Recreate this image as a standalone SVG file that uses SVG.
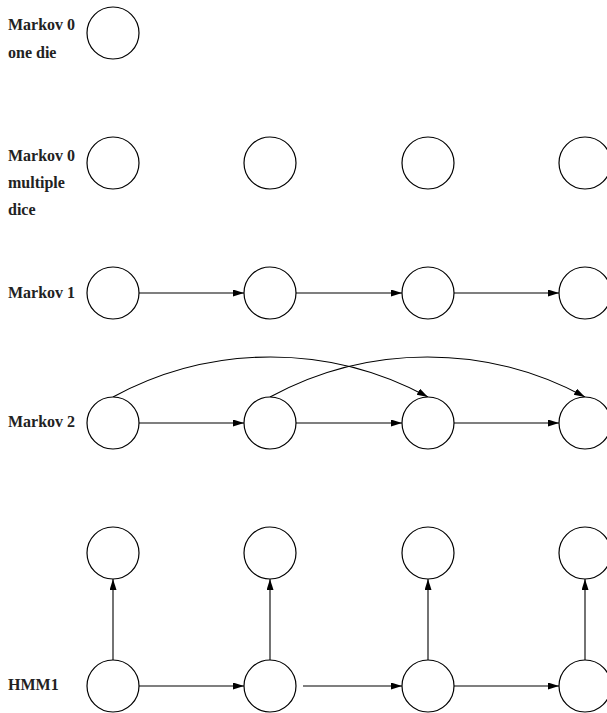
<svg xmlns="http://www.w3.org/2000/svg" width="607" height="713" viewBox="0 0 607 713">
<defs>
<style>
.n{fill:#fff;stroke:#000;stroke-width:1.2}
.e{fill:none;stroke:#000;stroke-width:1.1;marker-end:url(#ah)}
.t{font-family:"Liberation Serif","Times New Roman",serif;font-weight:bold;font-size:16px;fill:#222}
</style>
<marker id="ah" markerUnits="userSpaceOnUse" markerWidth="12" markerHeight="8" refX="11" refY="3.5" orient="auto">
<path d="M0,0 L11,3.5 L0,7 z" fill="#000"/>
</marker>
</defs>
<rect width="607" height="713" fill="#fff"/>
<g id="labels">
<text class="t" x="8" y="30">Markov 0</text>
<text class="t" x="8" y="58">one die</text>
<text class="t" x="8" y="161">Markov 0</text>
<text class="t" x="8" y="188">multiple</text>
<text class="t" x="8" y="215">dice</text>
<text class="t" x="8" y="298">Markov 1</text>
<text class="t" x="8" y="427">Markov 2</text>
<text class="t" x="8" y="690">HMM1</text>
</g>
<g id="connectors">
<line class="e" x1="139" y1="293" x2="244" y2="293"/>
<line class="e" x1="296" y1="293" x2="402" y2="293"/>
<line class="e" x1="454" y1="293" x2="559" y2="293"/>
<line class="e" x1="139" y1="423" x2="244" y2="423"/>
<line class="e" x1="296" y1="423" x2="402" y2="423"/>
<line class="e" x1="454" y1="423" x2="559" y2="423"/>
<path class="e" d="M113,397 A330,330 0 0 1 428,397"/>
<path class="e" d="M270,397 A330,330 0 0 1 585,397"/>
<line class="e" x1="113" y1="660" x2="113" y2="579"/>
<line class="e" x1="270" y1="660" x2="270" y2="579"/>
<line class="e" x1="428" y1="660" x2="428" y2="579"/>
<line class="e" x1="585" y1="660" x2="585" y2="579"/>
<line class="e" x1="139" y1="686" x2="244" y2="686"/>
<line class="e" x1="303" y1="686" x2="402" y2="686"/>
<line class="e" x1="454" y1="686" x2="559" y2="686"/>
</g>
<g id="n-m0"><circle class="n" cx="113" cy="33" r="26"/></g>
<g id="n-m0m-1"><circle class="n" cx="113" cy="163" r="26"/></g>
<g id="n-m0m-2"><circle class="n" cx="270" cy="163" r="26"/></g>
<g id="n-m0m-3"><circle class="n" cx="428" cy="163" r="26"/></g>
<g id="n-m0m-4"><circle class="n" cx="585" cy="163" r="26"/></g>
<g id="n-m1-1"><circle class="n" cx="113" cy="293" r="26"/></g>
<g id="n-m1-2"><circle class="n" cx="270" cy="293" r="26"/></g>
<g id="n-m1-3"><circle class="n" cx="428" cy="293" r="26"/></g>
<g id="n-m1-4"><circle class="n" cx="585" cy="293" r="26"/></g>
<g id="n-m2-1"><circle class="n" cx="113" cy="423" r="26"/></g>
<g id="n-m2-2"><circle class="n" cx="270" cy="423" r="26"/></g>
<g id="n-m2-3"><circle class="n" cx="428" cy="423" r="26"/></g>
<g id="n-m2-4"><circle class="n" cx="585" cy="423" r="26"/></g>
<g id="n-hmm-o1"><circle class="n" cx="113" cy="553" r="26"/></g>
<g id="n-hmm-o2"><circle class="n" cx="270" cy="553" r="26"/></g>
<g id="n-hmm-o3"><circle class="n" cx="428" cy="553" r="26"/></g>
<g id="n-hmm-o4"><circle class="n" cx="585" cy="553" r="26"/></g>
<g id="n-hmm-h1"><circle class="n" cx="113" cy="686" r="26"/></g>
<g id="n-hmm-h2"><circle class="n" cx="270" cy="686" r="26"/></g>
<g id="n-hmm-h3"><circle class="n" cx="428" cy="686" r="26"/></g>
<g id="n-hmm-h4"><circle class="n" cx="585" cy="686" r="26"/></g>
</svg>
